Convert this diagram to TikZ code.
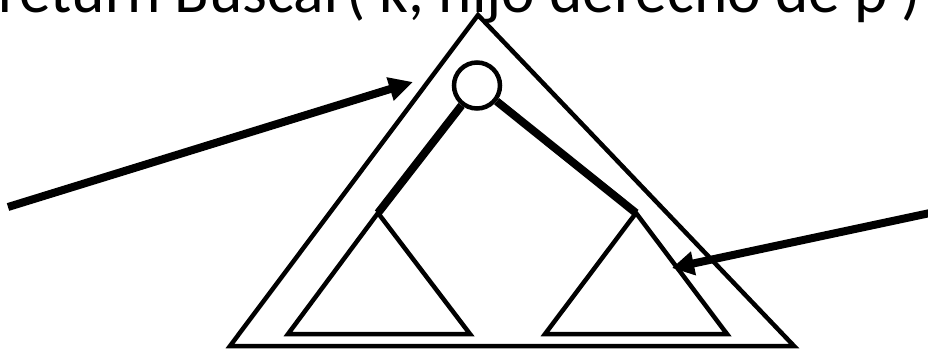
\documentclass[tikz,border=0pt]{standalone}
\usepackage{fontspec}
\setmainfont{Carlito}
\usetikzlibrary{arrows.meta}
\begin{document}
\begin{tikzpicture}[x=1pt,y=-1pt,
  thinline/.style={line width=4.5pt},
  branch/.style={line width=8pt},
  pointer/.style={line width=8pt,-{Triangle[length=24pt,width=23pt]}},
  titletext/.style={anchor=base west,inner sep=0pt,font=\fontsize{63.4}{70}\selectfont}]
\useasboundingbox (0,0) rectangle (928,351);
\clip (0,0) rectangle (928,351);
% title
\node[titletext] (title) at (-2,12) {return Buscar( k, hijo derecho de p )};
% outer triangle
\coordinate (oa) at (478,15);
\coordinate (ol) at (230,346);
\coordinate (or) at (794,346);
\draw[thinline] (oa) -- (ol) -- (or) -- cycle;
% root node
\node[circle,draw,thinline,minimum size=46pt,inner sep=0pt] (root) at (477,85.5) {};
% left subtree
\coordinate (la) at (378,213);
\coordinate (ll) at (288,334);
\coordinate (lr) at (470,334);
\draw[thinline] (la) -- (ll) -- (lr) -- cycle;
% right subtree
\coordinate (ra) at (636,213);
\coordinate (rl) at (545,334);
\coordinate (rr) at (727,334);
\draw[thinline] (ra) -- (rl) -- (rr) -- cycle;
% branches
\draw[branch] (root) -- (la);
\draw[branch] (root) -- (ra);
% arrows
\coordinate (lt) at (8,207);
\coordinate (lh) at (413,82);
\draw[pointer] (lt) -- (lh);
\coordinate (rt) at (930,213);
\coordinate (rh) at (672,268);
\draw[pointer,-{Triangle[length=22pt,width=23pt]}] (rt) -- (rh);
\end{tikzpicture}
\end{document}
